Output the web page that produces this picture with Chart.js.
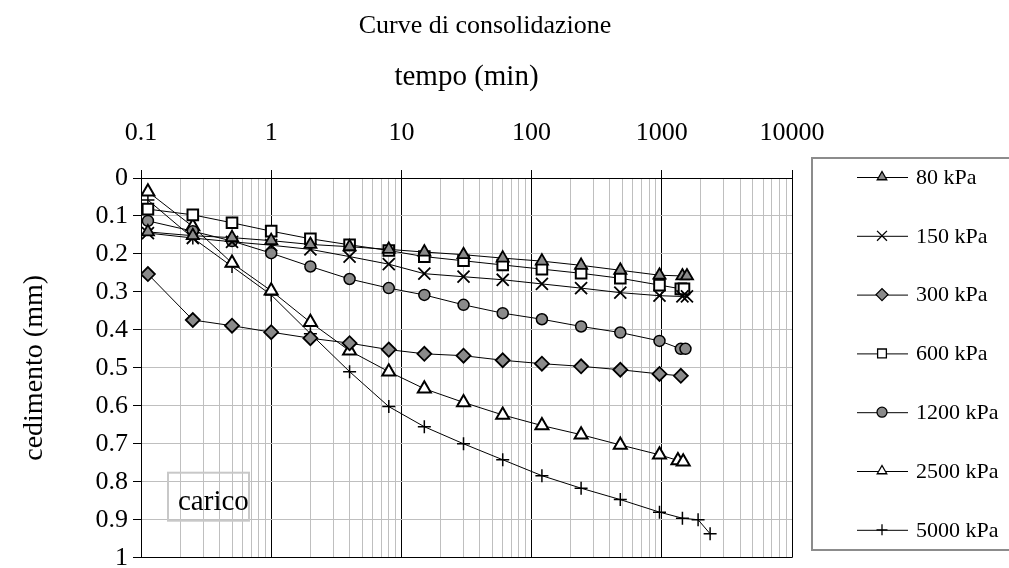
<!DOCTYPE html>
<html>
<head>
<meta charset="utf-8">
<script src="https://cdn.jsdelivr.net/npm/chart.js@4.4.1/dist/chart.umd.min.js"></script>
<style>
  html, body { margin: 0; padding: 0; background: #fff; }
</style>
</head>
<body>
<canvas id="chart" width="1009" height="568"></canvas>
<script>
// tempi di lettura (min)
const tempi = [0.113, 0.25, 0.5, 1, 2, 4, 8, 15, 30, 60, 120, 240, 480, 960];

// cedimenti (mm) per ogni gradino di carico, allineati a tempi
const ced80   = [0.142, 0.152, 0.157, 0.165, 0.175, 0.181, 0.188, 0.195, 0.202, 0.211, 0.219, 0.230, 0.243, 0.256];
const ced150  = [0.145, 0.158, 0.168, 0.177, 0.188, 0.207, 0.227, 0.252, 0.260, 0.268, 0.279, 0.290, 0.302, 0.310];
const ced300  = [0.253, 0.374, 0.389, 0.406, 0.422, 0.435, 0.452, 0.463, 0.468, 0.480, 0.489, 0.496, 0.505, 0.516];
const ced600  = [0.082, 0.097, 0.118, 0.140, 0.160, 0.176, 0.191, 0.207, 0.218, 0.229, 0.240, 0.251, 0.264, 0.282];
const ced1200 = [0.113, 0.140, 0.166, 0.198, 0.233, 0.266, 0.290, 0.308, 0.334, 0.356, 0.372, 0.391, 0.407, 0.429];
const ced2500 = [0.036, 0.128, 0.224, 0.297, 0.380, 0.455, 0.510, 0.555, 0.591, 0.624, 0.652, 0.676, 0.703, 0.729];
const ced5000 = [0.058, 0.158, 0.233, 0.308, 0.410, 0.510, 0.602, 0.655, 0.700, 0.742, 0.784, 0.817, 0.847, 0.880];

// letture finali (oltre 960 min)
const coda80x   = [1440, 1560];       const coda80y   = [0.258, 0.258];
const coda150x  = [1440, 1560];       const coda150y  = [0.312, 0.312];
const coda300x  = [1400];             const coda300y  = [0.521];
const coda600x  = [1400, 1480];       const coda600y  = [0.292, 0.292];
const coda1200x = [1400, 1520];       const coda1200y = [0.450, 0.450];
const coda2500x = [1330, 1460];       const coda2500y = [0.744, 0.747];
const coda5000x = [1440, 1900, 2350]; const coda5000y = [0.896, 0.900, 0.937];

const carichi = ['80 kPa', '150 kPa', '300 kPa', '600 kPa', '1200 kPa', '2500 kPa', '5000 kPa'];

const xDecadi = [0.1, 1, 10, 100, 1000, 10000];
const xEtichette = ['0.1', '1', '10', '100', '1000', '10000'];
const yEtichette = ['0', '0.1', '0.2', '0.3', '0.4', '0.5', '0.6', '0.7', '0.8', '0.9', '1'];

// stile dei marcatori (grafico, legenda)
const GRIGIO = '#8a8a8a';
const stili = [
    { style: 'triangle', fill: GRIGIO, r: 7, lr: 5.5, bw: 1.8 },
    { style: 'crossRot', fill: '#000', r: 8.5, lr: 7, bw: 1.8 },
    { style: 'rectRot', fill: GRIGIO, r: 7, lr: 6, bw: 1.8 },
    { style: 'rect', fill: '#fff', r: 7.5, lr: 6.2, bw: 2 },
    { style: 'circle', fill: GRIGIO, r: 5.5, lr: 5, bw: 1.5 },
    { style: 'triangle', fill: '#fff', r: 7.5, lr: 5.5, bw: 2 },
    { style: 'cross', fill: '#000', r: 6.5, lr: 5.5, bw: 1.5 },
];

function punti(ced, codaX, codaY) {
    const pts = tempi.map((t, i) => ({ x: t, y: ced[i] }));
    codaX.forEach((t, i) => pts.push({ x: t, y: codaY[i] }));
    return pts;
}

const serie = [
    punti(ced80, coda80x, coda80y),
    punti(ced150, coda150x, coda150y),
    punti(ced300, coda300x, coda300y),
    punti(ced600, coda600x, coda600y),
    punti(ced1200, coda1200x, coda1200y),
    punti(ced2500, coda2500x, coda2500y),
    punti(ced5000, coda5000x, coda5000y),
];

function isDecade(v) {
    const l = Math.log10(v);
    return Math.abs(l - Math.round(l)) < 1e-6;
}

const FONT = "'Liberation Serif', 'Times New Roman', serif";
Chart.defaults.font.family = FONT;
Chart.defaults.color = '#000';

// titolo, legenda a destra e riquadro "carico"
const decorazioni = {
    id: 'decorazioni',
    afterDraw(chart) {
        const ctx = chart.ctx;
        ctx.save();
        ctx.fillStyle = '#000';
        ctx.font = '26px ' + FONT;
        ctx.textAlign = 'center';
        ctx.textBaseline = 'alphabetic';
        ctx.fillText('Curve di consolidazione', 485, 33);

        // legenda
        ctx.strokeStyle = '#8c8c8c';
        ctx.lineWidth = 2;
        ctx.strokeRect(812, 158, 210, 392);
        const y0 = 177, dy = 58.8;
        chart.data.datasets.forEach((ds, i) => {
            const y = y0 + i * dy;
            const s = stili[i];
            ctx.strokeStyle = '#000';
            ctx.lineWidth = 1;
            ctx.beginPath();
            ctx.moveTo(857, y + 0.5);
            ctx.lineTo(908, y + 0.5);
            ctx.stroke();
            ctx.fillStyle = s.fill;
            ctx.strokeStyle = '#000';
            ctx.lineWidth = 1.3;
            Chart.helpers.drawPoint(ctx, { pointStyle: s.style, rotation: 0, radius: s.lr, borderWidth: 1.3 }, 882, y);
            ctx.fillStyle = '#000';
            ctx.font = '22px ' + FONT;
            ctx.textAlign = 'left';
            ctx.textBaseline = 'middle';
            ctx.fillText(ds.label, 916, y + 1);
        });

        // riquadro "carico"
        const a = chart.chartArea;
        ctx.strokeStyle = '#c8c8c8';
        ctx.lineWidth = 2;
        ctx.strokeRect(a.left + 27, a.bottom - 85, 81, 48);
        ctx.fillStyle = '#000';
        ctx.font = '29px ' + FONT;
        ctx.textAlign = 'left';
        ctx.textBaseline = 'alphabetic';
        ctx.fillText('carico', a.left + 37, a.bottom - 48);
        ctx.restore();
    }
};

const datasets = serie.map((pts, i) => ({
    label: carichi[i],
    data: pts,
    borderColor: '#000',
    borderWidth: 1,
    pointStyle: stili[i].style,
    pointRadius: stili[i].r,
    pointBackgroundColor: stili[i].fill,
    pointBorderColor: '#000',
    pointBorderWidth: stili[i].bw,
    tension: 0,
}));

new Chart(document.getElementById('chart'), {
    type: 'line',
    data: { datasets: datasets },
    options: {
        responsive: false,
        animation: false,
        devicePixelRatio: 1,
        layout: { padding: { left: 0, top: 0, right: 217, bottom: 10 } },
        plugins: {
            legend: { display: false },
            title: { display: false },
            tooltip: { enabled: false },
        },
        scales: {
            x: {
                type: 'logarithmic',
                position: 'top',
                min: 0.1,
                max: 10000,
                afterBuildTicks: scale => {
                    const ticks = [];
                    for (let d = 0; d < xDecadi.length - 1; d++) {
                        for (let k = 1; k <= 9; k++) {
                            ticks.push({ value: parseFloat((k * xDecadi[d]).toPrecision(6)) });
                        }
                    }
                    ticks.push({ value: xDecadi[xDecadi.length - 1] });
                    scale.ticks = ticks;
                },
                afterFit: scale => {
                    scale.height = 178;
                    scale.paddingLeft = 0;
                    scale.paddingRight = 0;
                },
                ticks: {
                    autoSkip: false,
                    maxRotation: 0,
                    padding: 21,
                    font: { size: 26 },
                    callback: value => {
                        const i = xDecadi.findIndex(d => Math.abs(d - value) < d * 1e-6);
                        return i >= 0 ? xEtichette[i] : '';
                    },
                },
                grid: {
                    color: ctx => isDecade(ctx.tick.value) ? '#000' : '#bfbfbf',
                    tickColor: ctx => isDecade(ctx.tick.value) ? '#000' : 'rgba(0,0,0,0)',
                    tickLength: 8,
                    lineWidth: 1,
                },
                border: { display: true, color: '#000', width: 1 },
                title: {
                    display: true,
                    text: 'tempo (min)',
                    font: { size: 29 },
                    padding: { top: 60, bottom: 0 },
                },
            },
            y: {
                type: 'linear',
                reverse: true,
                min: 0,
                max: 1,
                afterFit: scale => {
                    scale.width = 141;
                    scale.paddingTop = 0;
                    scale.paddingBottom = 0;
                },
                ticks: {
                    stepSize: 0.1,
                    padding: 5,
                    font: { size: 26 },
                    callback: value => yEtichette[Math.round(value * 10)],
                },
                grid: {
                    color: ctx => (Math.abs(ctx.tick.value) < 1e-9 || Math.abs(ctx.tick.value - 1) < 1e-9) ? '#000' : '#bfbfbf',
                    tickColor: '#000',
                    tickLength: 8,
                    lineWidth: 1,
                },
                border: { display: true, color: '#000', width: 1 },
                title: {
                    display: true,
                    text: 'cedimento (mm)',
                    font: { size: 28 },
                    padding: { top: 18, bottom: 0 },
                },
            },
        },
    },
    plugins: [decorazioni],
});
</script>
</body>
</html>
